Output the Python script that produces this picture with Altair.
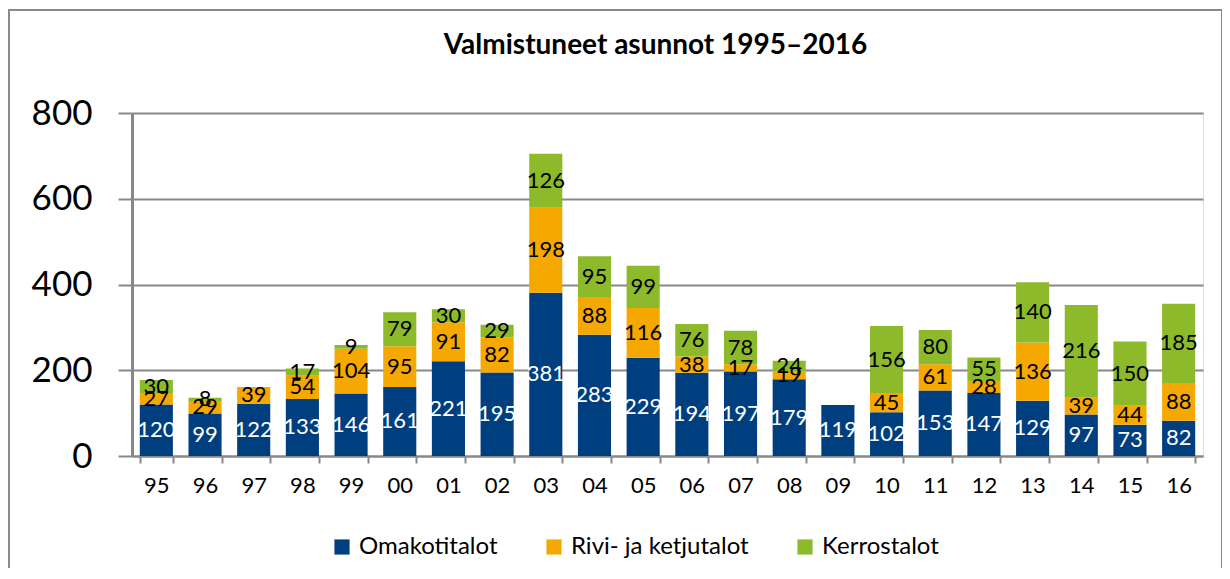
import altair as alt
import pandas as pd

years = ["95", "96", "97", "98", "99", "00", "01", "02", "03", "04", "05",
         "06", "07", "08", "09", "10", "11", "12", "13", "14", "15", "16"]
omakoti = [120, 99, 122, 133, 146, 161, 221, 195, 381, 283, 229,
           194, 197, 179, 119, 102, 153, 147, 129, 97, 73, 82]
rivi = [27, 29, 39, 54, 104, 95, 91, 82, 198, 88, 116,
        38, 17, 19, 0, 45, 61, 28, 136, 39, 44, 88]
kerros = [30, 8, 0, 17, 9, 79, 30, 29, 126, 95, 99,
          76, 78, 24, 0, 156, 80, 55, 140, 216, 150, 185]

series = ["Omakotitalot", "Rivi- ja ketjutalot", "Kerrostalot"]
colors = ["#003F7F", "#F5A800", "#8CBA2A"]
label_colors = ["#FFFFFF", "#000000", "#000000"]
title_text = "Valmistuneet asunnot 1995–2016"

rows = []
for i, y in enumerate(years):
    for k, vals in enumerate([omakoti, rivi, kerros]):
        rows.append({"year": y, "series": series[k], "value": vals[i],
                     "order": k, "lc": label_colors[k]})
df = pd.DataFrame(rows)

FONT = "Lato"
W, H = 1071, 343

base = alt.Chart(df).transform_stack(
    stack="value", as_=["v0", "v1"], groupby=["year"],
    sort=[alt.SortField("order", order="ascending")]
).transform_calculate(mid="(datum.v0 + datum.v1) / 2")

xenc = alt.X("year:N", sort=years, title=None,
             scale=alt.Scale(paddingInner=0.32, paddingOuter=0.16),
             axis=alt.Axis(labelAngle=0, tickBand="extent", tickSize=7,
                           tickWidth=2, tickColor="#888888",
                           domainColor="#888888", domainWidth=2,
                           labelFontSize=22, labelFont=FONT,
                           labelColor="#000000", labelPadding=12, grid=False))

bars = base.mark_bar().encode(
    x=xenc,
    y=alt.Y("v0:Q", title=None,
            scale=alt.Scale(domain=[0, 800], nice=False),
            axis=alt.Axis(values=[0, 200, 400, 600, 800], tickSize=14,
                          tickWidth=2, tickColor="#888888",
                          domainColor="#888888", domainWidth=3,
                          gridColor="#888888", gridWidth=2,
                          labelFontSize=35, labelFont=FONT,
                          labelColor="#000000", labelPadding=26)),
    y2="v1:Q",
    color=alt.Color("series:N", sort=series,
                    scale=alt.Scale(domain=series, range=colors),
                    legend=alt.Legend(title=None, orient="none",
                                      direction="horizontal",
                                      legendX=198, legendY=422,
                                      symbolType="square", symbolSize=230,
                                      symbolStrokeWidth=0,
                                      labelFontSize=24, labelFont=FONT,
                                      labelColor="#000000", labelLimit=0,
                                      columnPadding=44, labelOffset=5)),
    order=alt.Order("order:Q"),
)

labels = base.transform_filter("datum.value > 0").mark_text(
    font=FONT, fontSize=22, baseline="middle", align="center"
).encode(
    x=alt.X("year:N", sort=years),
    y=alt.Y("mid:Q"),
    text=alt.Text("value:Q"),
    color=alt.Color("lc:N", scale=None, legend=None),
)

frame = alt.Chart(df).mark_rect(
    fill=None, stroke="#8A8A8A", strokeWidth=2, clip=False
).encode(
    x=alt.value(-123), x2=alt.value(W + 19),
    y=alt.value(-103), y2=alt.value(H + 120),
)

title = alt.Chart(pd.DataFrame({"t": [title_text]})).mark_text(
    font=FONT, fontSize=28, fontWeight="bold", color="#000000",
    align="center", baseline="bottom"
).encode(
    text="t:N", x=alt.value(W / 2 - 12), y=alt.value(-53),
)

chart = alt.layer(frame, bars, labels, title).properties(
    width=W, height=H,
    padding={"left": 124, "top": 105, "right": 19, "bottom": 112},
    autosize=alt.AutoSizeParams(type="none"),
).configure_view(stroke="#000000", strokeWidth=2).configure(background="white")

chart.save("out.html", embed_options={"renderer": "svg", "actions": False})
